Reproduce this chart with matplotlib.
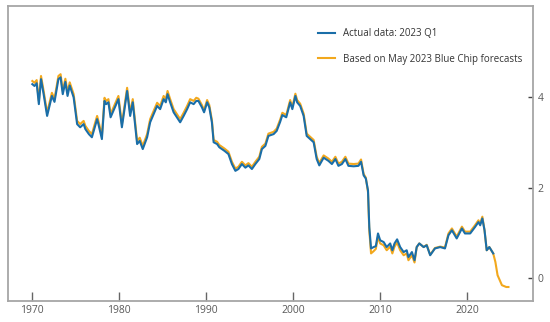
import matplotlib
matplotlib.use("Agg")
import matplotlib.pyplot as plt

# quarterly-ish vertices
years = [
    1970.0, 1970.25, 1970.5, 1970.75, 1971.0, 1971.3, 1971.7, 1972.25, 1972.55, 1973.0,
    1973.25, 1973.5, 1973.8, 1974.05, 1974.3, 1974.75, 1975.15, 1975.5, 1975.9, 1976.1,
    1976.5, 1976.85, 1977.45, 1977.6, 1978.0, 1978.3, 1978.5, 1978.75, 1979.0, 1979.9,
    1980.3, 1980.9, 1981.25, 1981.55, 1982.05, 1982.35, 1982.7, 1983.2, 1983.55, 1984.35,
    1984.7, 1985.1, 1985.35, 1985.55, 1985.85, 1986.25, 1987.0, 1987.4, 1987.8, 1988.15,
    1988.55, 1988.85, 1989.1, 1989.5, 1989.75, 1990.1, 1990.35, 1990.65, 1990.85, 1991.25,
    1991.5, 1991.8, 1992.1, 1992.55, 1992.95, 1993.35, 1993.7, 1994.1, 1994.5, 1994.85,
    1995.25, 1995.65, 1996.1, 1996.4, 1996.8, 1997.15, 1997.75, 1998.1, 1998.5, 1998.75,
    1999.2, 1999.65, 1999.9, 2000.25, 2000.45, 2000.8, 2001.2, 2001.55, 2001.95, 2002.35,
    2002.7, 2003.0, 2003.5, 2004.05, 2004.45, 2004.85, 2005.2, 2005.6, 2006.0, 2006.35,
    2006.95, 2007.5, 2007.8, 2008.1, 2008.35, 2008.6, 2008.75, 2008.95, 2009.25, 2009.5,
    2009.75, 2010.0, 2010.4, 2010.75, 2011.15, 2011.4, 2011.65, 2011.95, 2012.3, 2012.7,
    2013.05, 2013.25, 2013.65, 2013.95, 2014.2, 2014.5, 2015.0, 2015.35, 2015.75, 2016.3,
    2016.9, 2017.45, 2017.85, 2018.25, 2018.8, 2019.4, 2019.75, 2020.35, 2020.9, 2021.3,
    2021.5, 2021.75, 2022.0, 2022.25, 2022.55, 2022.9, 2023.0,
]

actual = [
    4.28, 4.24, 4.30, 3.84, 4.39, 4.06, 3.58, 4.02, 3.89, 4.39,
    4.43, 4.06, 4.33, 4.02, 4.25, 3.99, 3.40, 3.33, 3.40, 3.29,
    3.18, 3.11, 3.51, 3.40, 3.07, 3.91, 3.84, 3.88, 3.55, 3.95,
    3.33, 4.13, 3.58, 3.88, 2.96, 3.03, 2.85, 3.11, 3.44, 3.80,
    3.73, 3.95, 3.88, 4.06, 3.88, 3.66, 3.44, 3.58, 3.73, 3.88,
    3.84, 3.91, 3.91, 3.77, 3.66, 3.88, 3.77, 3.44, 3.00, 2.96,
    2.89, 2.85, 2.81, 2.74, 2.52, 2.37, 2.41, 2.52, 2.44, 2.49,
    2.41, 2.52, 2.63, 2.85, 2.92, 3.14, 3.18, 3.25, 3.45, 3.60,
    3.55, 3.88, 3.73, 4.02, 3.88, 3.80, 3.58, 3.14, 3.07, 3.00,
    2.63, 2.49, 2.66, 2.59, 2.52, 2.63, 2.48, 2.52, 2.63, 2.48,
    2.47, 2.48, 2.57, 2.27, 2.20, 1.94, 1.13, 0.66, 0.69, 0.71,
    0.99, 0.84, 0.80, 0.69, 0.77, 0.62, 0.77, 0.86, 0.69, 0.58,
    0.62, 0.47, 0.58, 0.40, 0.69, 0.77, 0.69, 0.73, 0.51, 0.66,
    0.69, 0.66, 0.95, 1.06, 0.88, 1.10, 0.99, 0.99, 1.13, 1.24,
    1.17, 1.32, 1.06, 0.62, 0.69, 0.58, 0.55,
]

forecast_years = years + [2023.25, 2023.5, 2024.0, 2024.5, 2024.75]

forecast = [
    4.35, 4.31, 4.37, 3.91, 4.46, 4.13, 3.65, 4.09, 3.96, 4.46,
    4.50, 4.13, 4.40, 4.09, 4.32, 4.06, 3.47, 3.40, 3.47, 3.36,
    3.25, 3.18, 3.58, 3.47, 3.14, 3.98, 3.91, 3.95, 3.62, 4.02,
    3.40, 4.20, 3.65, 3.95, 3.03, 3.10, 2.92, 3.18, 3.51, 3.87,
    3.80, 4.02, 3.95, 4.13, 3.95, 3.73, 3.51, 3.65, 3.80, 3.95,
    3.91, 3.98, 3.96, 3.82, 3.71, 3.93, 3.82, 3.49, 3.05, 3.01,
    2.94, 2.90, 2.86, 2.79, 2.57, 2.42, 2.46, 2.57, 2.49, 2.54,
    2.46, 2.57, 2.68, 2.90, 2.97, 3.19, 3.23, 3.30, 3.50, 3.65,
    3.60, 3.93, 3.78, 4.07, 3.93, 3.85, 3.63, 3.19, 3.12, 3.05,
    2.68, 2.54, 2.71, 2.64, 2.57, 2.68, 2.53, 2.57, 2.68, 2.53,
    2.52, 2.53, 2.62, 2.30, 2.22, 1.90, 1.05, 0.55, 0.60, 0.65,
    0.92, 0.77, 0.73, 0.62, 0.70, 0.55, 0.70, 0.79, 0.62, 0.51,
    0.55, 0.40, 0.51, 0.35, 0.69, 0.77, 0.69, 0.74, 0.52, 0.67,
    0.70, 0.68, 0.99, 1.10, 0.92, 1.14, 1.03, 1.03, 1.17, 1.28,
    1.21, 1.36, 1.06, 0.62, 0.69, 0.58, 0.55,
    0.36, 0.07, -0.15, -0.19, -0.19,
]

x_ticks = [1970, 1980, 1990, 2000, 2010, 2020]
y_ticks = [0, 2, 4]

BLUE = "#1a6ea8"
ORANGE = "#f2a81d"
GREY = "#a6a6a6"
TEXT = "#595959"

plt.rcParams["font.family"] = ["Open Sans", "DejaVu Sans"]

fig = plt.figure(figsize=(5.5, 3.22), dpi=100)
ax = fig.add_axes([0.0145, 0.065, 0.955, 0.916])

ax.plot(forecast_years, forecast, color=ORANGE, lw=1.5, zorder=2,
        label="Based on May 2023 Blue Chip forecasts")
ax.plot(years, actual, color=BLUE, lw=1.5, zorder=3, label="Actual data: 2023 Q1")

ax.set_xlim(1967.2, 2027.6)
ax.set_ylim(-0.5, 6.0)
ax.set_xticks(x_ticks)
ax.set_yticks(y_ticks)

ax.yaxis.tick_right()
ax.tick_params(axis="x", direction="in", length=6.5, width=1, color="#666666",
               labelsize=7.5, labelcolor=TEXT, pad=3)
ax.tick_params(axis="y", direction="in", length=3.5, width=1, color="#444444",
               labelsize=7.5, labelcolor=TEXT, pad=3)

for spine in ax.spines.values():
    spine.set_color(GREY)
    spine.set_linewidth(1.3)

handles, labels = ax.get_legend_handles_labels()
ax.legend(handles[::-1], labels[::-1], loc="upper left", bbox_to_anchor=(0.59, 0.925),
          frameon=False, fontsize=7, handlelength=1.75, handletextpad=0.85,
          labelspacing=1.5, borderpad=0, borderaxespad=0, labelcolor="#333333")

fig.savefig("out.png", dpi=100)
